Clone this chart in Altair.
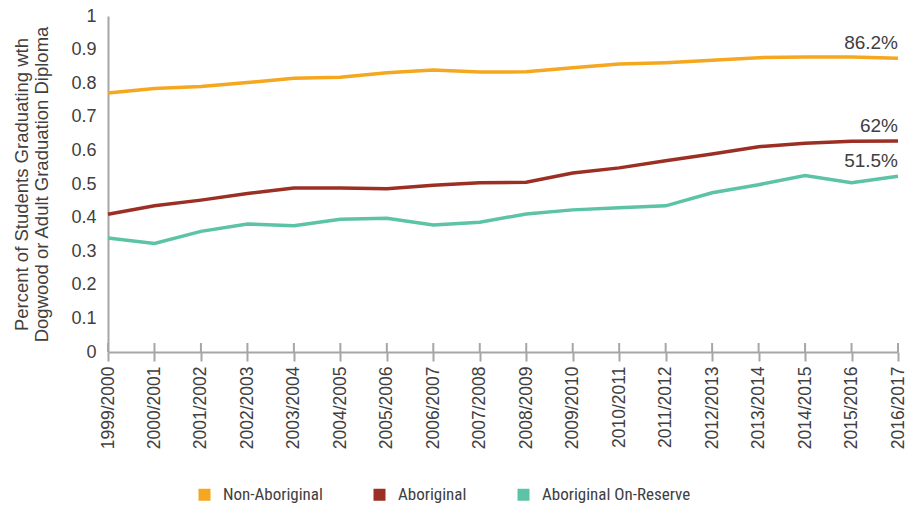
import altair as alt
import pandas as pd

years = ["1999/2000", "2000/2001", "2001/2002", "2002/2003", "2003/2004", "2004/2005",
         "2005/2006", "2006/2007", "2007/2008", "2008/2009", "2009/2010", "2010/2011",
         "2011/2012", "2012/2013", "2013/2014", "2014/2015", "2015/2016", "2016/2017"]

non_aboriginal = [0.771, 0.784, 0.790, 0.802, 0.815, 0.818, 0.831, 0.839, 0.833, 0.834,
                  0.846, 0.857, 0.861, 0.868, 0.876, 0.878, 0.878, 0.874]
aboriginal = [0.410, 0.435, 0.452, 0.472, 0.488, 0.488, 0.486, 0.496, 0.504, 0.505,
              0.533, 0.548, 0.569, 0.589, 0.611, 0.621, 0.627, 0.628]
on_reserve = [0.339, 0.323, 0.359, 0.381, 0.376, 0.395, 0.398, 0.378, 0.386, 0.411,
              0.423, 0.429, 0.435, 0.474, 0.498, 0.525, 0.504, 0.523]

series_names = ["Non-Aboriginal", "Aboriginal", "Aboriginal On-Reserve"]
series_colors = ["#F6A720", "#9C2F24", "#5CC3A6"]
end_labels = ["86.2%", "62%", "51.5%"]
y_ticks = [0, 0.1, 0.2, 0.3, 0.4, 0.5, 0.6, 0.7, 0.8, 0.9, 1]

all_values = [non_aboriginal, aboriginal, on_reserve]
rows = []
for name, vals in zip(series_names, all_values):
    for yr, v in zip(years, vals):
        rows.append({"series": name, "year": yr, "value": v})
df = pd.DataFrame(rows)

label_df = pd.DataFrame({
    "series": series_names,
    "year": [years[-1]] * len(series_names),
    "value": [vals[-1] for vals in all_values],
    "label": end_labels,
})
year_df = pd.DataFrame({"year": years, "value": [0] * len(years)})

GREY = "#A6A6A6"
TXT = "#404040"
FONT = "Liberation Sans"
NARROW = "'Liberation Sans Narrow', 'Roboto Condensed', Roboto, sans-serif"

x_scale = alt.Scale(type="point", padding=0)
x_axis = alt.Axis(
    title=None, labelAngle=270, labelFontSize=17.5, labelColor=TXT, labelFont=FONT,
    labelPadding=5, tickSize=9, tickWidth=2, tickColor=GREY,
    domainColor=GREY, domainWidth=2, grid=False,
)
y_scale = alt.Scale(domain=[0, 1], nice=False)
y_axis = alt.Axis(
    values=y_ticks, format="~g", ticks=False, grid=False,
    domainColor=GREY, domainWidth=2,
    labelFontSize=18, labelColor=TXT, labelFont=FONT, labelPadding=12,
    title=["Percent of Students Graduating wth", "Dogwood or Adult Graduation Diploma"],
    titleFontSize=18.5, titleFontWeight="normal", titleColor=TXT, titleFont=FONT,
    titlePadding=19, titleLineHeight=20,
)


def xe():
    return alt.X("year:N", sort=years, scale=x_scale, axis=x_axis)


def ye():
    return alt.Y("value:Q", scale=y_scale, axis=y_axis)


lines = alt.Chart(df).mark_line().encode(
    x=xe(),
    y=ye(),
    color=alt.Color(
        "series:N",
        scale=alt.Scale(domain=series_names, range=series_colors),
        sort=series_names,
        legend=alt.Legend(
            title=None, orient="none", direction="horizontal",
            legendX=88, legendY=470,
            symbolType="square", symbolSize=36, symbolStrokeWidth=6,
            labelFontSize=17, labelColor=TXT, labelFont=NARROW, labelLimit=400,
            labelOffset=10, columnPadding=41,
        ),
    ),
    strokeWidth=alt.value(3.5),
)

upper_ticks = alt.Chart(year_df).mark_rule(color=GREY, strokeWidth=2).encode(
    x=xe(),
    y=ye(),
    y2=alt.value(327),
)

texts = alt.Chart(label_df).mark_text(
    align="right", baseline="alphabetic", dy=-9, fontSize=19, color=TXT, font=FONT
).encode(
    x=xe(),
    y=ye(),
    text="label:N",
)

chart = alt.layer(lines, upper_ticks, texts).properties(
    width=790, height=336,
    autosize=alt.AutoSizeParams(type="none"),
    padding={"left": 100, "top": 8, "right": 10, "bottom": 153},
).configure_view(stroke=None)

chart.save("out.html", embed_options={"renderer": "svg", "actions": False})
